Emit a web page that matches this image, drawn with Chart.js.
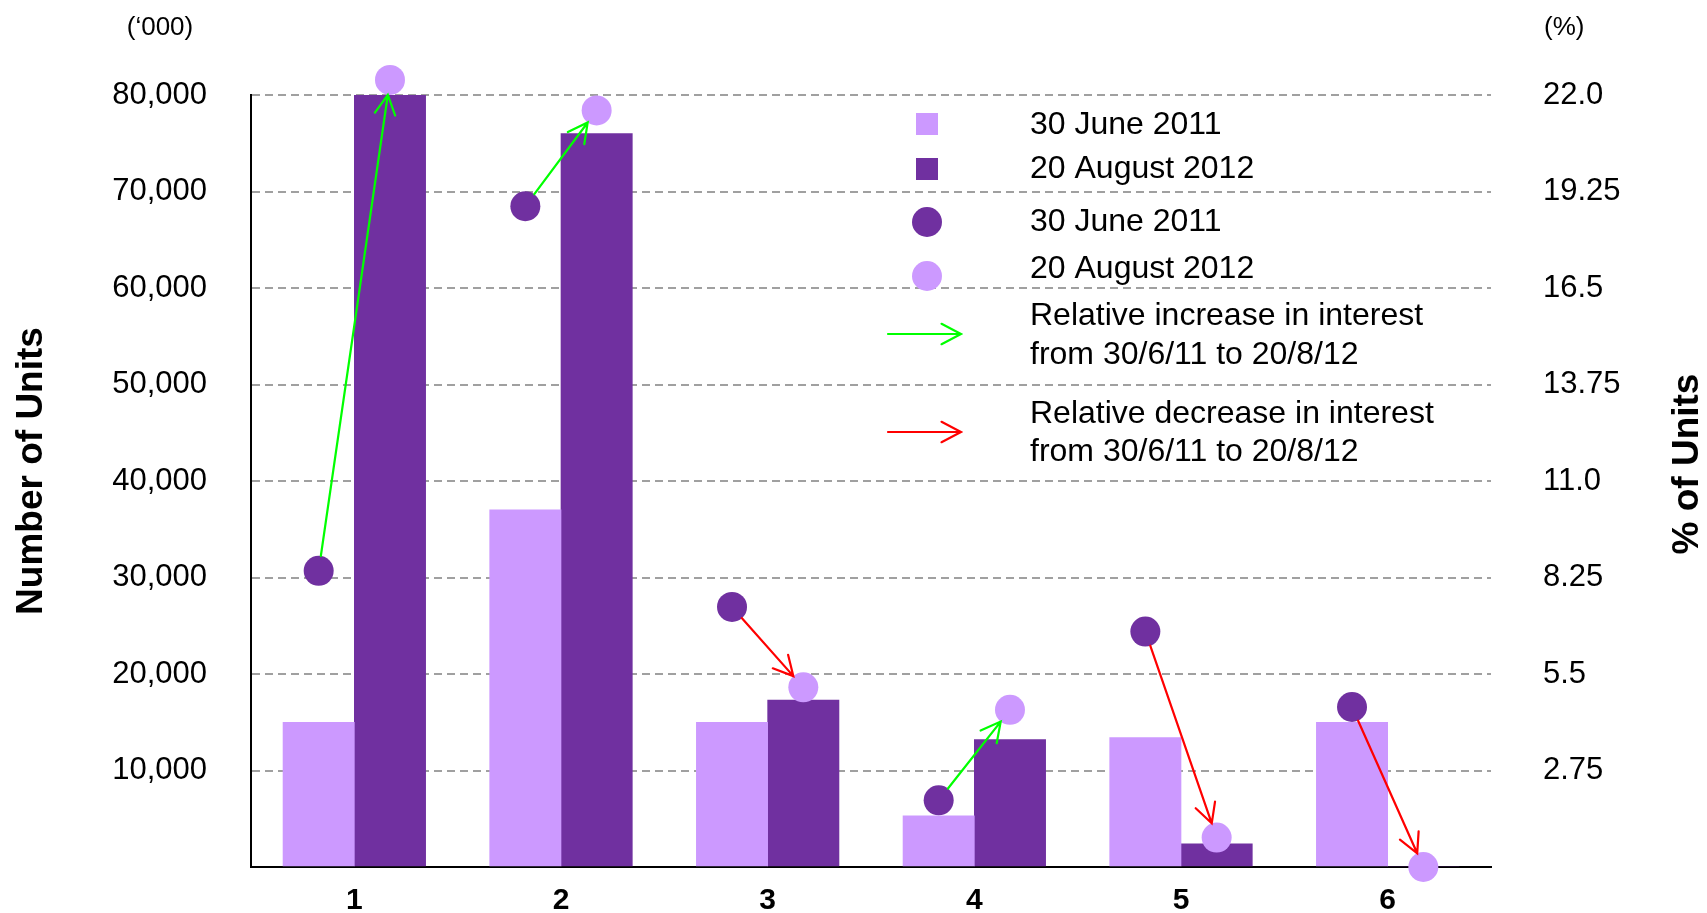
<!DOCTYPE html>
<html>
<head>
<meta charset="utf-8">
<title>Number and share of units</title>
<script src="https://cdn.jsdelivr.net/npm/chart.js@4/dist/chart.umd.min.js"></script>
<style>
  html, body { margin: 0; padding: 0; background: #fff; }
  canvas { display: block; }
</style>
</head>
<body>
<canvas id="chart" width="1707" height="913"></canvas>
<script>
const categories = ['1', '2', '3', '4', '5', '6'];

// number of units ('000)
const units2011 = [15000, 37000, 15000, 5300, 13400, 15000];
const units2012 = [80000, 76000, 17300, 13200, 2400, 0];

// share of units (%)
const share2011 = [8.44, 18.83, 7.41, 1.90, 6.71, 4.56];
const share2012 = [22.43, 21.56, 5.12, 4.48, 0.84, 0.0];

const unitTicks = ['', '10,000', '20,000', '30,000', '40,000', '50,000', '60,000', '70,000', '80,000'];
const shareTicks = ['', '2.75', '5.5', '8.25', '11.0', '13.75', '16.5', '19.25', '22.0'];

const legendLabels = [
  '30 June 2011',
  '20 August 2012',
  '30 June 2011',
  '20 August 2012',
  ['Relative increase in interest', 'from 30/6/11 to 20/8/12'],
  ['Relative decrease in interest', 'from 30/6/11 to 20/8/12']
];

const LIGHT = '#cc99ff';
const DARK = '#7030a0';
const UP = '#00ff00';
const DOWN = '#ff0000';
const FONT = "'Liberation Sans', Arial, sans-serif";
const DOT = 15;

// each category holds two touching bars; marks are placed on a hidden
// linear axis that lines up with the category axis (-0.5 .. 5.5)
const groupWidth = 0.69;
const shift = groupWidth / 4;
const placed = (values, dx) => values.map((v, i) => ({ x: i + dx, y: v }));

const drawArrow = (ctx, x1, y1, x2, y2, color) => {
  const a = Math.atan2(y2 - y1, x2 - x1);
  const head = 22;
  const spread = Math.PI / 6.5;
  ctx.save();
  ctx.strokeStyle = color;
  ctx.lineWidth = 2.2;
  ctx.lineCap = 'round';
  ctx.beginPath();
  ctx.moveTo(x1, y1);
  ctx.lineTo(x2, y2);
  ctx.moveTo(x2 - head * Math.cos(a - spread), y2 - head * Math.sin(a - spread));
  ctx.lineTo(x2, y2);
  ctx.lineTo(x2 - head * Math.cos(a + spread), y2 - head * Math.sin(a + spread));
  ctx.stroke();
  ctx.restore();
};

// arrows from the 2011 circle to the 2012 circle
const arrowPlugin = {
  id: 'arrows',
  afterDatasetsDraw(chart) {
    const from = chart.getDatasetMeta(2).data;
    const to = chart.getDatasetMeta(3).data;
    const ctx = chart.ctx;
    from.forEach((p, i) => {
      const q = to[i];
      const dx = q.x - p.x, dy = q.y - p.y;
      const len = Math.hypot(dx, dy);
      const ux = dx / len, uy = dy / len;
      const color = share2012[i] > share2011[i] ? UP : DOWN;
      drawArrow(ctx, p.x + ux * DOT, p.y + uy * DOT, q.x - ux * DOT, q.y - uy * DOT, color);
    });
  }
};

const verticalTitle = (ctx, text, x, y) => {
  ctx.save();
  ctx.translate(x, y);
  ctx.rotate(-Math.PI / 2);
  ctx.textAlign = 'center';
  ctx.font = `bold 37px ${FONT}`;
  ctx.fillText(text, 0, 0);
  ctx.restore();
};

const extrasPlugin = {
  id: 'extras',
  afterDraw(chart) {
    const ctx = chart.ctx;
    ctx.save();
    ctx.fillStyle = '#000';
    ctx.textBaseline = 'middle';

    // unit captions above both axes
    ctx.font = `26px ${FONT}`;
    ctx.textAlign = 'center';
    ctx.fillText('(\u2018000)', 160, 28);
    ctx.textAlign = 'left';
    ctx.fillText('(%)', 1544, 28);

    // axis titles, reading bottom to top
    verticalTitle(ctx, 'Number of Units', 32, 471);
    verticalTitle(ctx, '% of Units', 1688, 464);

    // legend
    const kx = 927;
    const tx = 1030;
    ctx.fillStyle = LIGHT;
    ctx.fillRect(kx - 11, 113, 22, 22);
    ctx.fillStyle = DARK;
    ctx.fillRect(kx - 11, 158, 22, 22);
    ctx.beginPath();
    ctx.arc(kx, 222, DOT, 0, Math.PI * 2);
    ctx.fill();
    ctx.fillStyle = LIGHT;
    ctx.beginPath();
    ctx.arc(kx, 276, DOT, 0, Math.PI * 2);
    ctx.fill();
    drawArrow(ctx, 888, 334, 961, 334, UP);
    drawArrow(ctx, 888, 432, 961, 432, DOWN);

    ctx.fillStyle = '#000';
    ctx.textAlign = 'left';
    ctx.font = `32px ${FONT}`;
    const rows = [[125], [169.5], [222.5], [269.5], [316, 355], [414, 452]];
    legendLabels.forEach((label, i) => {
      const lines = Array.isArray(label) ? label : [label];
      lines.forEach((line, j) => ctx.fillText(line, tx, rows[i][j]));
    });
    ctx.restore();
  }
};

const tickFont = { family: FONT, size: 31 };

const barSet = (label, values, dx, color) => ({
  label,
  data: placed(values, dx),
  backgroundColor: color,
  grouped: false,
  categoryPercentage: 1,
  barPercentage: 1,
  xAxisID: 'xp',
  yAxisID: 'y',
  order: 2
});

// circles for the share of units; a larger hover radius keeps points
// that sit just past the top of the scale from being culled
const pointSet = (label, values, dx, color) => ({
  type: 'line',
  label,
  data: placed(values, dx),
  showLine: false,
  pointRadius: DOT,
  pointHoverRadius: DOT + 6,
  pointBorderWidth: 0,
  pointBackgroundColor: color,
  pointBorderColor: color,
  xAxisID: 'xp',
  yAxisID: 'y2',
  clip: false,
  order: 1
});

new Chart(document.getElementById('chart').getContext('2d'), {
  type: 'bar',
  data: {
    labels: categories,
    datasets: [
      barSet('30 June 2011', units2011, -shift, LIGHT),
      barSet('20 August 2012', units2012, shift, DARK),
      pointSet('30 June 2011 (%)', share2011, -shift, DARK),
      pointSet('20 August 2012 (%)', share2012, shift, LIGHT)
    ]
  },
  options: {
    responsive: false,
    animation: false,
    events: [],
    layout: { padding: { top: 95, left: 0, right: 0, bottom: 0 } },
    plugins: {
      legend: { display: false },
      tooltip: { enabled: false }
    },
    scales: {
      x: {
        type: 'category',
        offset: true,
        grid: { display: false, drawTicks: false },
        border: { display: true, color: '#000', width: 2 },
        ticks: {
          color: '#000',
          font: { family: FONT, size: 30, weight: 'bold' },
          padding: 16,
          maxRotation: 0,
          autoSkip: false
        },
        afterFit: scale => { scale.height = 46; }
      },
      xp: {
        type: 'linear',
        min: -0.5,
        max: 5.5,
        offset: false,
        grid: { offset: false },
        ticks: { stepSize: 1 },
        display: false
      },
      y: {
        position: 'left',
        min: 0,
        max: 80000,
        ticks: {
          stepSize: 10000,
          padding: 0,
          color: '#000',
          font: tickFont,
          callback: (val, i) => unitTicks[i]
        },
        grid: {
          color: '#a0a0a0',
          lineWidth: 2,
          drawTicks: true,
          tickLength: 44,
          tickColor: 'rgba(0,0,0,0)'
        },
        border: { display: true, color: '#000', width: 2, dash: [8, 5] },
        afterFit: scale => { scale.width = 251; }
      },
      y2: {
        position: 'right',
        min: 0,
        max: 22,
        ticks: {
          stepSize: 2.75,
          padding: 0,
          color: '#000',
          font: tickFont,
          callback: (val, i) => shareTicks[i]
        },
        grid: { display: false, drawTicks: true, tickLength: 52 },
        border: { display: false },
        afterFit: scale => { scale.width = 216; }
      }
    }
  },
  plugins: [arrowPlugin, extrasPlugin]
});
</script>
</body>
</html>
